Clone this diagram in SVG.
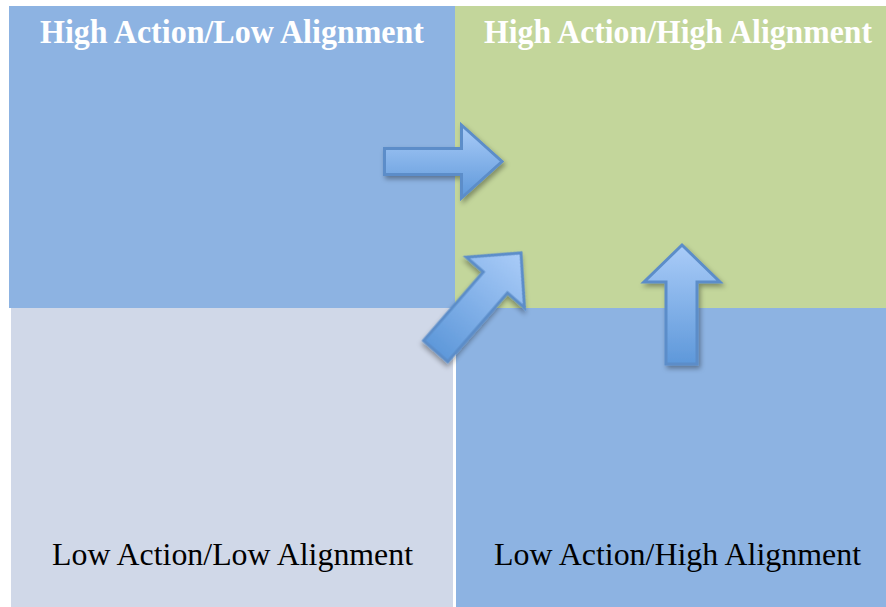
<svg xmlns="http://www.w3.org/2000/svg" width="886" height="607" viewBox="0 0 886 607">
  <style>
    .title { font-family: "Liberation Serif", "Times New Roman", serif; font-weight: bold; font-size: 33px; fill: #ffffff; text-anchor: middle; }
    .label { font-family: "Liberation Serif", "Times New Roman", serif; font-size: 32px; fill: #000000; text-anchor: middle; }
    .arrow { fill: url(#arrowGrad); stroke: #5B8DC9; stroke-width: 3; stroke-linejoin: miter; filter: url(#shadow); }
  </style>
  <defs>
    <linearGradient id="arrowGrad" x1="0" y1="0" x2="0" y2="1">
      <stop offset="0" stop-color="#AACCF8"/>
      <stop offset="1" stop-color="#5E98DA"/>
    </linearGradient>
    <filter id="shadow" x="-30%" y="-30%" width="160%" height="160%">
      <feDropShadow dx="2" dy="3" stdDeviation="2.5" flood-color="#000000" flood-opacity="0.35"/>
    </filter>
  </defs>
  <rect width="886" height="607" fill="#ffffff"/>
  <g id="quadrant-high-low">
    <rect x="9" y="6" width="446" height="302" fill="#8DB3E2"/>
    <text class="title" x="232" y="43" textLength="384" lengthAdjust="spacingAndGlyphs">High Action/Low Alignment</text>
  </g>
  <g id="quadrant-high-high">
    <rect x="455" y="6" width="431" height="302" fill="#C3D69B"/>
    <text class="title" x="678" y="43" textLength="388" lengthAdjust="spacingAndGlyphs">High Action/High Alignment</text>
  </g>
  <g id="quadrant-low-low">
    <rect x="11" y="308" width="442" height="299" fill="#D0D8E8"/>
    <text class="label" x="232.5" y="565" textLength="361" lengthAdjust="spacingAndGlyphs">Low Action/Low Alignment</text>
  </g>
  <g id="quadrant-low-high">
    <rect x="456" y="308" width="430" height="299" fill="#8DB3E2"/>
    <text class="label" x="677.5" y="565" textLength="367" lengthAdjust="spacingAndGlyphs">Low Action/High Alignment</text>
  </g>
  <g id="connectors">
    <polygon class="arrow" points="384.5,148.5 461.5,148.5 461.5,125 502,161.5 461.5,198 461.5,174.5 384.5,174.5"/>
    <g transform="translate(521,253) rotate(41)">
      <polygon class="arrow" points="0,0 38.5,39 16,39 16,130 -16,130 -16,39 -38.5,39"/>
    </g>
    <polygon class="arrow" points="682,245 720,282 697,282 697,364 666,364 666,282 644,282"/>
  </g>
</svg>
